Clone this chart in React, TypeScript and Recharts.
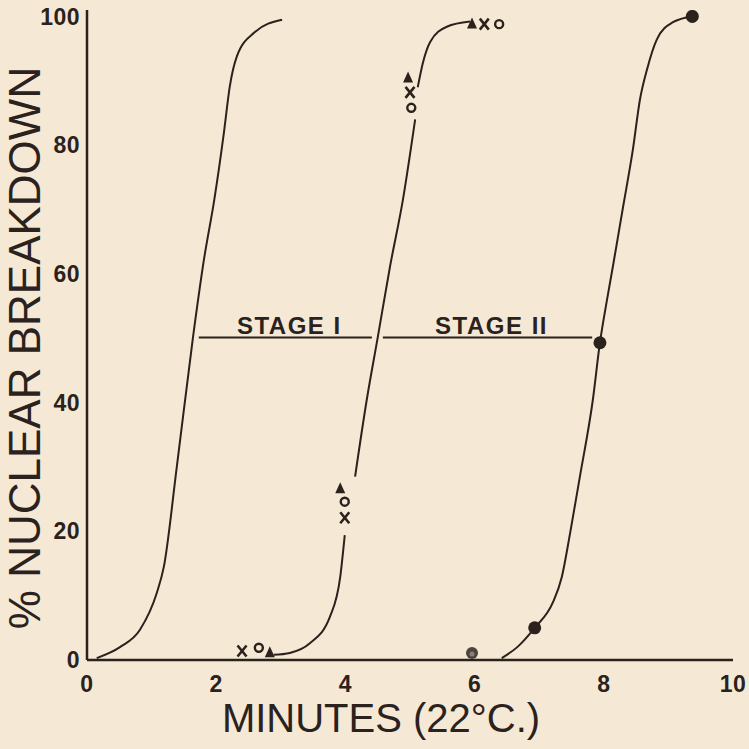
import {
  ComposedChart,
  Line,
  Scatter,
  XAxis,
  YAxis,
  ReferenceLine,
  Label,
} from "recharts";

const BG = "#f5e9d5";
const INK = "#2b211d";

const xTicks = [0, 2, 4, 6, 8, 10];
const yTicks = [0, 20, 40, 60, 80, 100];

// curve: minutes vs % breakdown
const curveA = [
  { m: 0.15, p: 0.3 },
  { m: 0.51, p: 2.0 },
  { m: 0.82, p: 4.7 },
  { m: 1.08, p: 10.4 },
  { m: 1.19, p: 14.5 },
  { m: 1.39, p: 30.0 },
  { m: 1.64, p: 50.1 },
  { m: 1.81, p: 62.2 },
  { m: 1.97, p: 71.5 },
  { m: 2.12, p: 82.0 },
  { m: 2.21, p: 89.1 },
  { m: 2.32, p: 93.8 },
  { m: 2.59, p: 97.5 },
  { m: 3.02, p: 99.5 },
];

// second curve is broken where the symbols sit
const curveB1 = [
  { m: 2.89, p: 0.8 },
  { m: 3.14, p: 1.1 },
  { m: 3.45, p: 2.6 },
  { m: 3.76, p: 6.7 },
  { m: 3.92, p: 12.9 },
  { m: 3.99, p: 19.4 },
];
const curveB2 = [
  { m: 4.15, p: 28.5 },
  { m: 4.33, p: 40.4 },
  { m: 4.5, p: 50.1 },
  { m: 4.69, p: 61.1 },
  { m: 4.89, p: 71.5 },
  { m: 5.08, p: 84.0 },
];
const curveB3 = [
  { m: 5.12, p: 89.0 },
  { m: 5.2, p: 92.8 },
  { m: 5.31, p: 96.0 },
  { m: 5.57, p: 98.4 },
  { m: 5.93, p: 99.2 },
];

const curveC = [
  { m: 6.42, p: 0.3 },
  { m: 6.66, p: 2.0 },
  { m: 6.93, p: 5.0 },
  { m: 7.21, p: 8.9 },
  { m: 7.35, p: 12.9 },
  { m: 7.48, p: 19.8 },
  { m: 7.63, p: 28.5 },
  { m: 7.83, p: 40.4 },
  { m: 7.94, p: 49.3 },
  { m: 8.05, p: 56.0 },
  { m: 8.14, p: 61.1 },
  { m: 8.3, p: 70.5 },
  { m: 8.45, p: 79.3 },
  { m: 8.56, p: 87.1 },
  { m: 8.67, p: 91.8 },
  { m: 8.82, p: 96.4 },
  { m: 9.07, p: 99.1 },
  { m: 9.37, p: 100 },
];

const crossPts = [
  { m: 2.4, p: 1.4 },
  { m: 3.99, p: 22.1 },
  { m: 5.0, p: 88.2 },
  { m: 6.15, p: 98.8 },
];
const ringPts = [
  { m: 2.66, p: 1.9 },
  { m: 3.99, p: 24.6 },
  { m: 5.02, p: 85.8 },
  { m: 6.38, p: 98.8 },
];
const trianglePts = [
  { m: 2.83, p: 1.2 },
  { m: 3.92, p: 26.7 },
  { m: 4.97, p: 90.5 },
  { m: 5.96, p: 98.9 },
];
const dotPts = [
  { m: 6.93, p: 5.0 },
  { m: 7.94, p: 49.3 },
  { m: 9.37, p: 100 },
];
const greyDotPts = [{ m: 5.96, p: 1.1 }];

const stageLevel = 50.1;
const stageI = [1.73, 4.41];
const stageII = [4.58, 7.82];

const tickStyle = {
  fill: INK,
  fontSize: 23,
  fontWeight: 700,
  letterSpacing: 0.5,
  fontFamily: "Liberation Sans, Arial, sans-serif",
};

const CrossShape = ({ cx, cy }: any) => (
  <g stroke={INK} strokeWidth={2.6}>
    <line x1={cx - 4.5} y1={cy - 5.5} x2={cx + 4.5} y2={cy + 5.5} />
    <line x1={cx + 4.5} y1={cy - 5.5} x2={cx - 4.5} y2={cy + 5.5} />
  </g>
);
const RingShape = ({ cx, cy }: any) => (
  <circle cx={cx} cy={cy} r={4} fill="none" stroke={INK} strokeWidth={2.4} />
);
const TriShape = ({ cx, cy }: any) => (
  <polygon
    points={`${cx},${cy - 6} ${cx - 5},${cy + 5} ${cx + 5},${cy + 5}`}
    fill={INK}
  />
);
const DotShape = ({ cx, cy }: any) => <circle cx={cx} cy={cy} r={6.5} fill={INK} />;
const GreyDotShape = ({ cx, cy }: any) => (
  <g>
    <circle cx={cx} cy={cy} r={6} fill="#4d423d" />
    <circle cx={cx} cy={cy + 1} r={2.5} fill="#8a7f76" />
  </g>
);

const YTitle = ({ viewBox }: any) => {
  const x = viewBox.x + 24;
  const y = viewBox.y + viewBox.height / 2 + 13;
  return (
    <text
      x={x}
      y={y}
      transform={`rotate(-90 ${x} ${y})`}
      textAnchor="middle"
      dominantBaseline="central"
      fill={INK}
      fontSize={44}
      fontFamily="Liberation Sans, Arial, sans-serif"
    >
      % NUCLEAR BREAKDOWN
    </text>
  );
};

const XTitle = ({ viewBox }: any) => (
  <text
    x={viewBox.x + viewBox.width / 2 - 29}
    y={viewBox.y + 58}
    textAnchor="middle"
    dominantBaseline="central"
    fill={INK}
    fontSize={40}
    fontFamily="Liberation Sans, Arial, sans-serif"
  >
    MINUTES (22°C.)
  </text>
);

const stageFont = {
  fill: INK,
  fontSize: 24,
  fontWeight: 700,
  letterSpacing: 1.5,
  fontFamily: "Liberation Sans, Arial, sans-serif",
};

export default function App() {
  return (
    <div
      style={{
        position: "fixed",
        left: 0,
        top: 0,
        width: 749,
        height: 749,
        background: BG,
      }}
    >
      <ComposedChart
        width={749}
        height={749}
        margin={{ top: 10, right: 16, left: 0, bottom: 0 }}
      >
        <XAxis
          type="number"
          dataKey="m"
          domain={[0, 10]}
          ticks={xTicks}
          tick={tickStyle}
          tickLine={false}
          tickMargin={10}
          axisLine={{ stroke: INK, strokeWidth: 2.5 }}
          height={89}
          allowDataOverflow
        >
          <Label content={<XTitle />} />
        </XAxis>
        <YAxis
          type="number"
          dataKey="p"
          domain={[0, 101]}
          ticks={yTicks}
          tick={tickStyle}
          tickLine={false}
          tickMargin={1}
          axisLine={{ stroke: INK, strokeWidth: 2.5 }}
          width={87}
          allowDataOverflow
        >
          <Label content={<YTitle />} />
        </YAxis>

        <ReferenceLine
          segment={[
            { x: stageI[0], y: stageLevel },
            { x: stageI[1], y: stageLevel },
          ]}
          stroke={INK}
          strokeWidth={2}
        >
          <Label value="STAGE I" position="top" offset={4} dx={4} {...stageFont} />
        </ReferenceLine>
        <ReferenceLine
          segment={[
            { x: stageII[0], y: stageLevel },
            { x: stageII[1], y: stageLevel },
          ]}
          stroke={INK}
          strokeWidth={2}
        >
          <Label value="STAGE II" position="top" offset={4} dx={4} {...stageFont} />
        </ReferenceLine>

        {[curveA, curveB1, curveB2, curveB3, curveC].map((d, i) => (
          <Line
            key={i}
            data={d}
            dataKey="p"
            type="monotone"
            stroke={INK}
            strokeWidth={2}
            dot={false}
            activeDot={false}
            isAnimationActive={false}
          />
        ))}

        <Scatter data={crossPts} dataKey="p" shape={<CrossShape />} isAnimationActive={false} />
        <Scatter data={ringPts} dataKey="p" shape={<RingShape />} isAnimationActive={false} />
        <Scatter data={trianglePts} dataKey="p" shape={<TriShape />} isAnimationActive={false} />
        <Scatter data={dotPts} dataKey="p" shape={<DotShape />} isAnimationActive={false} />
        <Scatter data={greyDotPts} dataKey="p" shape={<GreyDotShape />} isAnimationActive={false} />
      </ComposedChart>
    </div>
  );
}
